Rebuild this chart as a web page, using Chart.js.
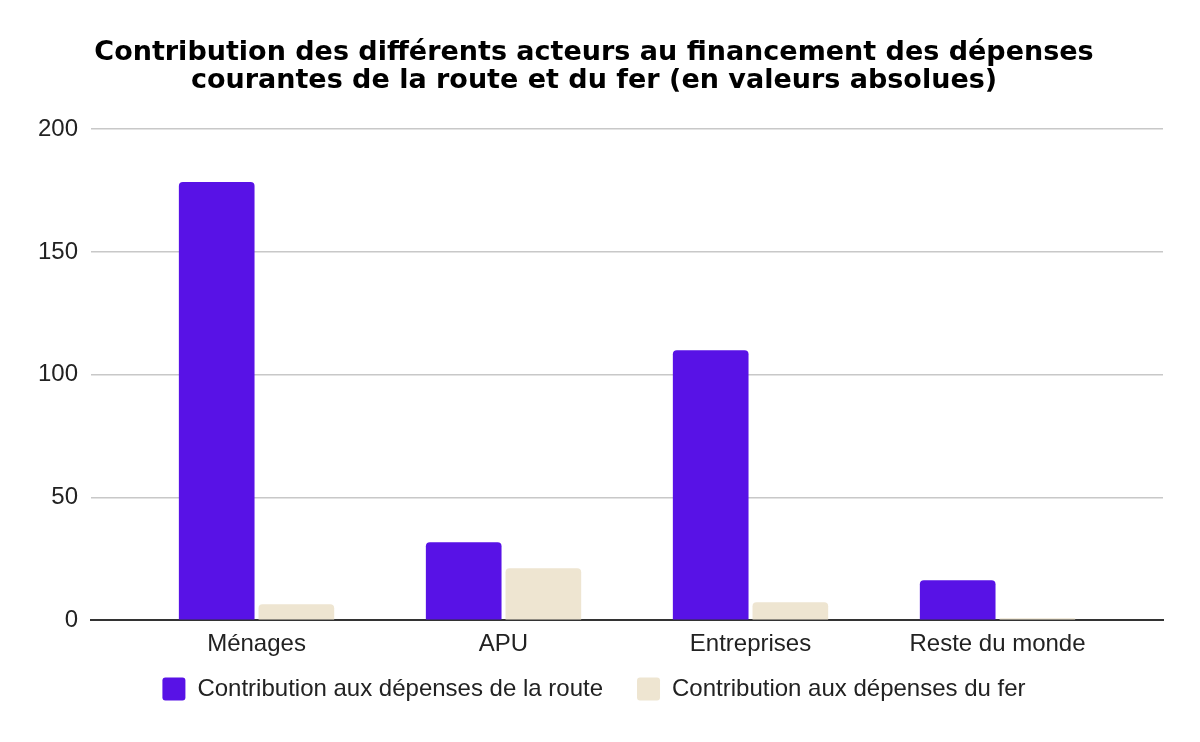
<!DOCTYPE html>
<html>
<head>
<meta charset="utf-8">
<script src="https://cdn.jsdelivr.net/npm/chart.js@4/dist/chart.umd.min.js"></script>
<style>
html,body{margin:0;padding:0;background:#fff;}
#wrap{width:1200px;height:742px;}
</style>
</head>
<body>
<div id="wrap"><canvas id="graf"></canvas></div>
<script>
var acteurs=["Ménages","APU","Entreprises","Reste du monde"];
var route=[178.5,31.7,110,16.3];
var fer=[6.5,21.2,7.3,0.8];
var ticksY=[0,50,100,150,200];

Chart.defaults.font.family="'Liberation Sans', Arial, sans-serif";
Chart.defaults.color="#222";

// abscisse linéaire pour laisser de la marge de chaque côté des groupes
function points(arr){
  return arr.map(function(v,i){return {x:i,y:v};});
}

const routeG={
  label:"Contribution aux dépenses de la route",
  data:points(route),
  backgroundColor:"#5812E6",
  borderRadius:4,
  borderSkipped:"bottom",
  categoryPercentage:0.645,
  barPercentage:0.95
};
const ferG={
  label:"Contribution aux dépenses du fer",
  data:points(fer),
  backgroundColor:"#EEE5D1",
  borderRadius:4,
  borderSkipped:"bottom",
  categoryPercentage:0.645,
  barPercentage:0.95
};

// remonte la légende plus près des étiquettes de l'axe
const remonteLegende={
  id:"remonteLegende",
  afterLayout:function(chart){
    if(chart.legend){chart.legend.top-=26;chart.legend.bottom-=26;}
  }
};

var ctx=document.getElementById("graf").getContext("2d");
var graf=new Chart(ctx,{
  type:"bar",
  data:{datasets:[routeG,ferG]},
  plugins:[remonteLegende],
  options:{
    responsive:true,
    maintainAspectRatio:false,
    animation:false,
    layout:{padding:{left:25,right:37,top:39,bottom:5}},
    plugins:{
      title:{
        display:true,
        text:["Contribution des différents acteurs au financement des dépenses","courantes de la route et du fer (en valeurs absolues)"],
        color:"#000",
        font:{size:27,weight:"bold",family:"'DejaVu Sans', sans-serif",lineHeight:1.04},
        padding:{top:0,bottom:34}
      },
      legend:{
        position:"bottom",
        labels:{
          boxWidth:23,
          boxHeight:23,
          useBorderRadius:true,
          borderRadius:3,
          padding:34,
          color:"#222",
          font:{size:24}
        }
      },
      tooltip:{enabled:false}
    },
    scales:{
      x:{
        type:"linear",
        min:-0.67,
        max:3.67,
        offset:false,
        afterBuildTicks:function(ax){ax.ticks=acteurs.map(function(a,i){return {value:i};});},
        grid:{display:false,drawTicks:false},
        border:{color:"#333",width:2},
        ticks:{font:{size:24},color:"#222",padding:10,maxRotation:0,
          callback:function(v){return acteurs[v];}}
      },
      y:{
        min:0,max:200,
        afterBuildTicks:function(ax){ax.ticks=ticksY.map(function(v){return {value:v};});},
        grid:{color:"#c8c8c8",lineWidth:1.5,drawTicks:false},
        border:{display:false},
        ticks:{font:{size:24},color:"#222",padding:13}
      }
    }
  }
});
</script>
</body>
</html>
